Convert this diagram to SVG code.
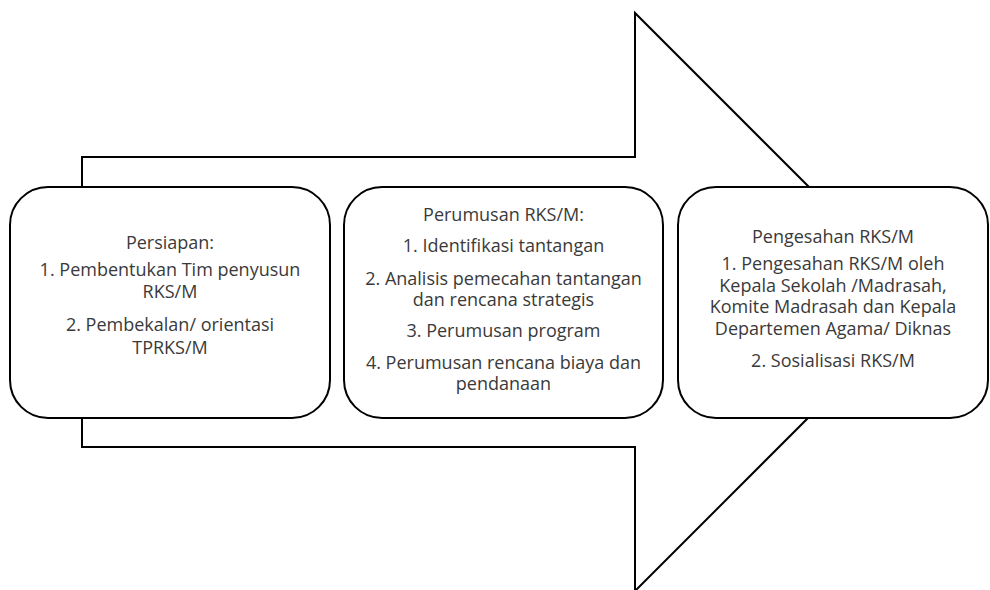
<svg xmlns="http://www.w3.org/2000/svg" width="990" height="590" viewBox="0 0 990 590">
<style>
.shape{fill:#fff;stroke:#000;stroke-width:2}
.t{font-family:"Open Sans","Noto Sans","Liberation Sans",sans-serif;font-size:18px;fill:#3a3a3a;text-anchor:middle}
</style>
<rect width="990" height="590" fill="#fff"/>
<g id="arrow">
<polygon class="shape" points="82,157 635,157 635,13 924,302 635,591 635,447 82,447"/>
</g>
<g id="connectors"></g>
<g id="node-persiapan">
<rect class="shape" x="10" y="187" width="320" height="231" rx="38" ry="38"/>
<text class="t" x="170" y="249">Persiapan:</text>
<text class="t" x="170" y="276">1. Pembentukan Tim penyusun</text>
<text class="t" x="170" y="298">RKS/M</text>
<text class="t" x="170" y="331">2. Pembekalan/ orientasi</text>
<text class="t" x="170" y="353.5">TPRKS/M</text>
</g>
<g id="node-perumusan">
<rect class="shape" x="344" y="187" width="319" height="231" rx="38" ry="38"/>
<text class="t" x="503.5" y="221">Perumusan RKS/M:</text>
<text class="t" x="503.5" y="252">1. Identifikasi tantangan</text>
<text class="t" x="503.5" y="284.5">2. Analisis pemecahan tantangan</text>
<text class="t" x="503.5" y="305.5">dan rencana strategis</text>
<text class="t" x="503.5" y="337">3. Perumusan program</text>
<text class="t" x="503.5" y="369">4. Perumusan rencana biaya dan</text>
<text class="t" x="503.5" y="390">pendanaan</text>
</g>
<g id="node-pengesahan">
<rect class="shape" x="678" y="187" width="310" height="231" rx="38" ry="38"/>
<text class="t" x="833" y="243">Pengesahan RKS/M</text>
<text class="t" x="833" y="270">1. Pengesahan RKS/M oleh</text>
<text class="t" x="833" y="291.5">Kepala Sekolah /Madrasah,</text>
<text class="t" x="833" y="313">Komite Madrasah dan Kepala</text>
<text class="t" x="833" y="334.5">Departemen Agama/ Diknas</text>
<text class="t" x="833" y="366.5">2. Sosialisasi RKS/M</text>
</g>
</svg>
